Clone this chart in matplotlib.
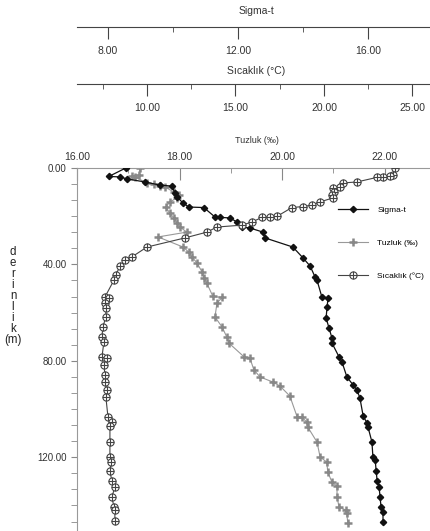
import matplotlib.pyplot as plt
from matplotlib.path import Path
from matplotlib.ticker import MultipleLocator, FormatStrFormatter

# Sigma-t profile (depth m, sigma-t)
sigma_depth = [0.0, 3.5, 3.7, 4.5, 5.8, 7.1, 7.5, 10.4, 12.0, 14.5, 16.2, 16.4, 20.3, 20.5, 20.7,
               22.4, 24.5, 24.9, 26.6, 29.0, 32.8, 37.3, 40.7, 45.2, 46.5, 53.5, 53.9, 57.7, 62.2,
               66.4, 70.5, 72.6, 78.4, 80.5, 86.7, 90.0, 92.1, 95.4, 102.9, 105.8, 107.5, 113.7,
               119.9, 121.2, 125.7, 129.9, 132.4, 136.5, 140.7, 142.7, 146.9]
sigma_val = [8.55, 8.03, 8.37, 8.58, 9.14, 9.60, 9.97, 10.06, 10.12, 10.31, 10.49, 10.95, 11.29, 11.45,
             11.75, 11.97, 12.12, 12.37, 12.77, 12.83, 13.69, 14.00, 14.22, 14.37, 14.43, 14.58, 14.77,
             14.74, 14.71, 14.80, 14.89, 14.89, 15.11, 15.20, 15.35, 15.54, 15.66, 15.75, 15.85, 15.97,
             16.00, 16.12, 16.15, 16.22, 16.25, 16.28, 16.34, 16.37, 16.40, 16.46, 16.46]

# Tuzluk (salinity) profile
tuz_depth = [0.0, 2.9, 3.3, 3.7, 6.2, 6.6, 7.5, 7.9, 10.0, 11.2, 12.4, 14.1, 16.2, 18.7, 20.7, 22.8,
             24.5, 26.6, 28.6, 32.8, 34.9, 36.9, 39.4, 43.2, 45.6, 47.7, 53.3, 53.7, 56.0, 61.8, 66.0,
             70.1, 72.6, 78.4, 78.8, 83.8, 86.7, 88.8, 90.5, 94.6, 103.1, 103.5, 105.4, 107.5, 113.7,
             119.9, 122.0, 126.1, 130.3, 132.0, 136.5, 140.7, 141.9, 143.2, 147.3]
tuz_val = [17.23, 17.21, 17.07, 17.13, 17.36, 17.50, 17.62, 17.72, 17.89, 17.99, 17.95, 17.81, 17.73,
           17.81, 17.89, 17.95, 18.01, 18.14, 17.58, 18.07, 18.18, 18.24, 18.34, 18.44, 18.48, 18.53,
           18.65, 18.83, 18.73, 18.69, 18.83, 18.92, 18.96, 19.26, 19.37, 19.45, 19.57, 19.82, 19.96,
           20.15, 20.29, 20.39, 20.48, 20.50, 20.68, 20.74, 20.87, 20.89, 20.97, 21.07, 21.07, 21.11,
           21.24, 21.26, 21.28]

# Sicaklik (temperature) profile
sic_depth = [0.0, 2.9, 3.5, 3.7, 3.9, 5.8, 6.2, 7.9, 8.3, 10.0, 11.2, 12.4, 14.1, 15.4, 16.0, 16.4,
             20.1, 20.3, 20.5, 22.4, 23.7, 24.5, 26.6, 29.0, 32.8, 36.9, 38.2, 40.7, 44.4, 46.5, 53.5,
             53.9, 56.0, 58.1, 61.8, 66.0, 70.1, 72.2, 78.4, 78.8, 81.7, 85.9, 88.8, 92.1, 95.0, 103.3,
             105.4, 107.1, 113.7, 119.9, 122.0, 125.7, 129.9, 132.4, 136.5, 140.7, 141.9, 146.5]
sic_val = [24.01, 23.90, 23.73, 23.33, 22.99, 21.86, 21.07, 20.90, 20.51, 20.56, 20.45, 20.51, 19.77,
           19.32, 18.81, 18.19, 17.34, 16.95, 16.50, 15.93, 15.37, 13.95, 13.39, 12.15, 10.00, 9.15,
           8.76, 8.47, 8.25, 8.14, 7.63, 7.85, 7.63, 7.68, 7.68, 7.51, 7.46, 7.57, 7.46, 7.74, 7.57,
           7.63, 7.63, 7.74, 7.68, 7.80, 8.02, 7.91, 7.91, 7.91, 7.97, 7.91, 8.02, 8.19, 8.02, 8.14,
           8.19, 8.19]

plt.rcParams['font.family'] = ['Liberation Sans', 'DejaVu Sans']

W, H = 430, 531
fig = plt.figure(figsize=(W / 100, H / 100), dpi=100)

# main axes runs off the right and bottom edges like the original
x0, x1, y0, y1 = 77, 436, 168, 541.6
ax = fig.add_axes([x0 / W, 1 - y1 / H, (x1 - x0) / W, (y1 - y0) / H])
ax.set_xlim(16, 23)
ax.set_ylim(155, 0)

# twins for sigma-t and temperature (made first: twiny moves ax ticks to the bottom)
ax_sig = ax.twiny()
ax_sig.set_xlim(7.05, 18.09)
ax_tem = ax.twiny()
ax_tem.set_xlim(6.05, 26.33)
for a in (ax_sig, ax_tem):
    a.xaxis.set_visible(False)
    for s in a.spines.values():
        s.set_visible(False)

for s in ['right', 'bottom']:
    ax.spines[s].set_visible(False)
for s in ['top', 'left']:
    ax.spines[s].set_color('#999999')

ax.xaxis.tick_top()
ax.xaxis.set_label_position('top')
ax.xaxis.set_major_locator(MultipleLocator(2))
ax.xaxis.set_minor_locator(MultipleLocator(1))
ax.xaxis.set_major_formatter(FormatStrFormatter('%.2f'))
ax.tick_params(axis='x', which='major', direction='in', length=8.5, color='#888888',
               labelsize=7.5, labelcolor='#333333', pad=4)
ax.tick_params(axis='x', which='minor', direction='in', length=3.5, color='#888888')
ax.set_xlabel('Tuzluk (‰)', fontsize=6.5, color='#333333', labelpad=7)

ax.yaxis.set_major_locator(MultipleLocator(40))
ax.yaxis.set_minor_locator(MultipleLocator(40 / 6))
ax.yaxis.set_major_formatter(FormatStrFormatter('%.2f'))
ax.tick_params(axis='y', which='both', direction='out', length=4.3, color='#888888',
               labelsize=7, labelcolor='#333333', pad=3)


def ruler(yline, share, major, minor, title, tpad, lpad):
    r = fig.add_axes([x0 / W, 1 - yline / H, (x1 - x0) / W, 1e-4], sharex=share)
    for s in ['top', 'left', 'right']:
        r.spines[s].set_visible(False)
    r.spines['bottom'].set_color('#444444')
    r.patch.set_visible(False)
    r.set_yticks([])
    r.xaxis.set_major_locator(MultipleLocator(major))
    r.xaxis.set_minor_locator(MultipleLocator(minor))
    r.xaxis.set_major_formatter(FormatStrFormatter('%.2f'))
    r.tick_params(axis='x', which='major', direction='out', length=8.5, color='#444444',
                  labelsize=7.5, labelcolor='#333333', pad=lpad)
    r.tick_params(axis='x', which='minor', direction='out', length=3.5, color='#444444')
    r.set_title(title, fontsize=7.5, color='#333333', pad=tpad)
    return r


ruler(27, ax_sig, 4, 2, 'Sigma-t', 9.2, 5)
ruler(84, ax_tem, 5, 2.5, 'Sıcaklık (°C)', 7.2, 5.5)

# circle with a plus inside, for the temperature marker
oplus = Path.make_compound_path(Path.unit_circle(),
                                Path([[-1, 0], [1, 0]], [Path.MOVETO, Path.LINETO]),
                                Path([[0, -1], [0, 1]], [Path.MOVETO, Path.LINETO]))

l1, = ax_sig.plot(sigma_val, sigma_depth, color='#111111', lw=0.9, marker='D', ms=3.2,
                  mfc='#111111', mec='#111111', label='Sigma-t')
l2, = ax.plot(tuz_val, tuz_depth, color='#999999', lw=0.8, marker='+', ms=6, mew=1.8,
              mec='#888888', label='Tuzluk (‰)')
l3, = ax_tem.plot(sic_val, sic_depth, color='#444444', lw=0.8, marker=oplus, ms=5.2, mew=0.8,
                  mfc='white', mec='#444444', label='Sıcaklık (°C)')

ax_tem.legend(handles=[l1, l2, l3], loc='upper left', bbox_to_anchor=(338 / W, 1 - 206 / H),
              bbox_transform=fig.transFigure, frameon=False, fontsize=6, borderpad=0,
              borderaxespad=0, labelspacing=3.0, handlelength=3.6, handletextpad=1.1)

fig.text(13 / W, 1 - 296 / H, 'd\ne\nr\ni\nn\nl\ni\nk\n(m)', ha='center', va='center',
         multialignment='center', fontsize=8.3, linespacing=0.88, color='#222222')

plt.savefig('out.png', dpi=100)
